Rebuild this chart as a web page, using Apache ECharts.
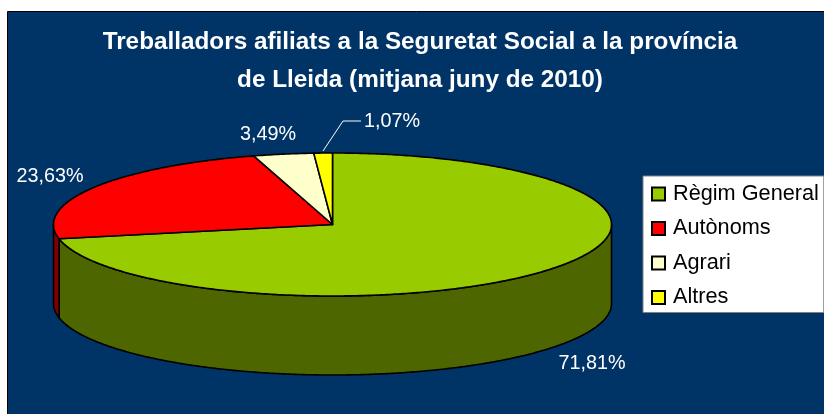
<!DOCTYPE html>
<html>
<head>
<meta charset="utf-8">
<style>
  html, body { margin: 0; padding: 0; background: #fff; }
  #chart { width: 824px; height: 414px; }
</style>
<script src="https://cdn.jsdelivr.net/npm/echarts@6/dist/echarts.min.js"></script>
</head>
<body>
<div id="chart"></div>
<script>
  var categories = ['Règim General', 'Autònoms', 'Agrari', 'Altres'];
  var percents = [71.81, 23.63, 3.49, 1.07];
  var titleText = 'Treballadors afiliats a la Seguretat Social a la província\nde Lleida (mitjana juny de 2010)';

  var topColors = ['#99CC00', '#FF0000', '#FFFFCC', '#FFFF00'];
  var sideColors = ['#4D6600', '#800000', '#808066', '#808000'];

  // el·lipse del pastís 3D
  var cx = 332.5, cy = 224.5, rx = 279, ry = 71.5, depth = 79;
  var labelPos = [[592, 364], [50, 177], [268, 135], [392, 122]];

  var total = percents.reduce(function (a, b) { return a + b; }, 0);

  function pt(angle, dy) {
    return [cx + rx * Math.sin(angle), cy - ry * Math.cos(angle) + (dy || 0)];
  }

  function arc(from, to, dy) {
    var pts = [];
    var n = Math.max(2, Math.ceil((to - from) / 0.01));
    for (var i = 0; i <= n; i++) {
      pts.push(pt(from + (to - from) * i / n, dy));
    }
    return pts;
  }

  function makeRenderItem(index) {
    return function (params, api) {
      var start = 0;
      for (var i = 0; i < index; i++) start += percents[i];
      var a0 = start / total * Math.PI * 2;
      var a1 = (start + api.value(0)) / total * Math.PI * 2;
      var stroke = { stroke: '#000', lineWidth: 1.6, lineJoin: 'round' };
      var children = [];

      // cara lateral: només la part de davant (90-270 graus)
      var s0 = Math.max(a0, Math.PI / 2), s1 = Math.min(a1, Math.PI * 3 / 2);
      if (s1 > s0) {
        var sidePts = arc(s0, s1, 0).concat(arc(s0, s1, depth).reverse());
        children.push({
          type: 'polygon',
          shape: { points: sidePts },
          style: Object.assign({ fill: sideColors[index] }, stroke)
        });
      }

      children.push({
        type: 'polygon',
        shape: { points: [[cx, cy]].concat(arc(a0, a1, 0)) },
        style: Object.assign({ fill: topColors[index] }, stroke)
      });

      children.push({
        type: 'text',
        style: {
          x: labelPos[index][0],
          y: labelPos[index][1],
          text: api.value(0).toFixed(2).replace('.', ',') + '%',
          fill: '#fff',
          font: '19.8px "Liberation Sans", Arial, sans-serif',
          align: 'center',
          verticalAlign: 'middle'
        }
      });

      // línia guia de l'etiqueta petita
      if (index === 3) {
        children.push({
          type: 'polyline',
          shape: { points: [[323, 151], [343, 121], [361, 121]] },
          style: { stroke: '#fff', lineWidth: 1, fill: null }
        });
      }

      return { type: 'group', children: children };
    };
  }

  var chart = echarts.init(document.getElementById('chart'), null, { renderer: 'canvas' });

  var series = categories.map(function (name, i) {
    return {
      name: name,
      type: 'custom',
      coordinateSystem: 'none',
      renderItem: makeRenderItem(i),
      itemStyle: { color: topColors[i], borderColor: '#000', borderWidth: 1 },
      data: [[percents[i]]],
      silent: true,
      animation: false
    };
  });

  chart.setOption({
    backgroundColor: '#fff',
    animation: false,
    graphic: [{
      type: 'rect',
      z: -10,
      shape: { x: 7.5, y: 11.5, width: 830, height: 420 },
      style: { fill: '#003366', stroke: '#000', lineWidth: 1 }
    }],
    title: {
      text: titleText,
      left: 415,
      top: 18,
      textAlign: 'center',
      textStyle: {
        color: '#fff',
        fontFamily: '"Liberation Sans", Arial, sans-serif',
        fontWeight: 'bold',
        fontSize: 24.3,
        lineHeight: 38
      }
    },
    legend: {
      orient: 'vertical',
      left: 643,
      top: 176,
      padding: [7, 5, 4, 8],
      itemWidth: 13,
      itemHeight: 13,
      itemGap: 12.5,
      icon: 'rect',
      backgroundColor: '#fff',
      borderColor: '#808080',
      borderWidth: 1,
      selectedMode: false,
      data: categories,
      textStyle: {
        color: '#000',
        fontFamily: '"Liberation Sans", Arial, sans-serif',
        fontSize: 21.7,
        padding: [0, 0, 0, 3]
      }
    },
    series: series
  });
</script>
</body>
</html>
